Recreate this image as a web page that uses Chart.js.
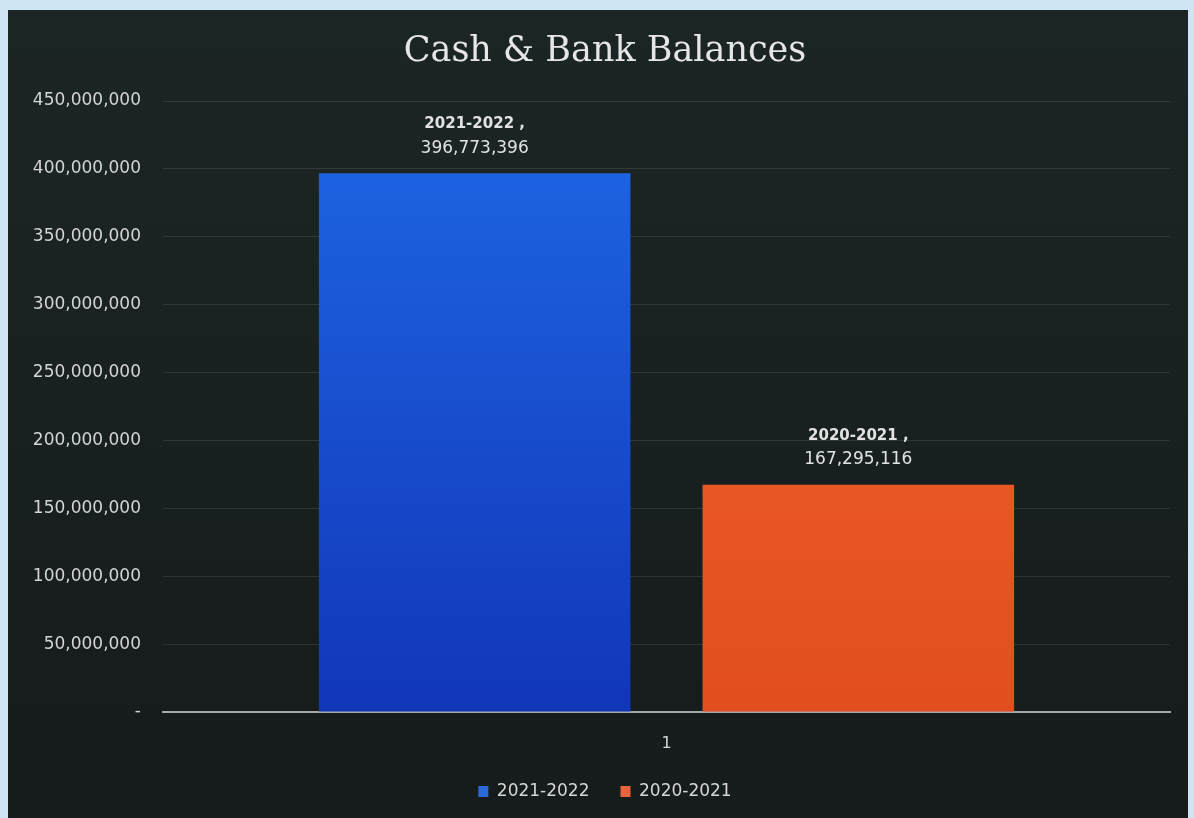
<!DOCTYPE html>
<html>
<head>
<meta charset="utf-8">
<script src="https://cdn.jsdelivr.net/npm/chart.js@4.4.1/dist/chart.umd.min.js"></script>
<style>
html,body{margin:0;padding:0;background:#cfe5f3;}
#wrap{width:1194px;height:818px;position:relative;}
</style>
</head>
<body>
<div id="wrap"><canvas id="c" width="1194" height="818"></canvas></div>
<script>
const chartTitle = "Cash & Bank Balances";
const categories = ["1"];
const seriesNames = ["2021-2022", "2020-2021"];
const values2122 = [396773396];
const values2021 = [167295116];
const yTicks = [0, 50000000, 100000000, 150000000, 200000000, 250000000, 300000000, 350000000, 400000000, 450000000];

const fmt = v => v.toLocaleString('en-US');

const panelBg = {
  id: 'panelBg',
  beforeDraw(chart) {
    const ctx = chart.ctx;
    ctx.save();
    const g = ctx.createLinearGradient(0, 10, 0, 818);
    g.addColorStop(0, '#1c2525');
    g.addColorStop(1, '#161b1b');
    ctx.fillStyle = g;
    ctx.fillRect(8, 10, 1180, 808);
    ctx.restore();
  }
};

const barLabels = {
  id: 'barLabels',
  afterDatasetsDraw(chart) {
    const ctx = chart.ctx;
    ctx.save();
    ctx.textAlign = 'center';
    ctx.textBaseline = 'middle';
    ctx.fillStyle = '#e2e2e2';
    chart.data.datasets.forEach((ds, i) => {
      const meta = chart.getDatasetMeta(i);
      meta.data.forEach((bar, j) => {
        const v = ds.data[j];
        ctx.font = 'bold 15px "DejaVu Sans"';
        ctx.fillText(ds.label + ' ,', bar.x, bar.y - 49);
        ctx.font = '17px "DejaVu Sans"';
        ctx.fillText(fmt(v), bar.x, bar.y - 25);
      });
    });
    ctx.restore();
  }
};

function grad(ctx, chartArea, top, bottom) {
  if (!chartArea) return top;
  const g = ctx.createLinearGradient(0, chartArea.top, 0, chartArea.bottom);
  g.addColorStop(0, top);
  g.addColorStop(1, bottom);
  return g;
}

new Chart(document.getElementById('c'), {
  type: 'bar',
  data: {
    labels: categories,
    datasets: [
      {
        label: seriesNames[0],
        data: values2122,
        backgroundColor: c => grad(c.chart.ctx, c.chart.chartArea, '#1e68e6', '#1236b8'),
        borderWidth: 0
      },
      {
        label: seriesNames[1],
        data: values2021,
        backgroundColor: c => grad(c.chart.ctx, c.chart.chartArea, '#f5652e', '#e24e1e'),
        borderWidth: 0
      }
    ]
  },
  plugins: [panelBg, barLabels],
  options: {
    responsive: false,
    animation: false,
    devicePixelRatio: 1,
    categoryPercentage: 0.762,
    barPercentage: 0.812,
    layout: { padding: { top: 20, left: 24, right: 8, bottom: 8 } },
    plugins: {
      title: {
        display: true,
        text: chartTitle,
        color: '#e6e6e6',
        font: { family: '"DejaVu Serif"', size: 35, weight: 'normal', lineHeight: 1.2 },
        padding: { top: 11, bottom: 28 }
      },
      legend: {
        position: 'bottom',
        labels: {
          color: '#d6d6d6',
          font: { family: '"DejaVu Sans"', size: 17 },
          boxWidth: 10,
          boxHeight: 11,
          padding: 31,
          generateLabels(chart) {
            const cols = ['#2a6ad8', '#e8643c'];
            return chart.data.datasets.map((ds, i) => ({
              text: ds.label,
              fillStyle: cols[i],
              strokeStyle: cols[i],
              lineWidth: 0,
              fontColor: '#d6d6d6',
              datasetIndex: i,
              hidden: false
            }));
          }
        }
      },
      tooltip: { enabled: false }
    },
    scales: {
      x: {
        grid: { display: false, drawTicks: false },
        border: { display: true, color: '#a8a8a8', width: 2 },
        ticks: { color: '#d6d6d6', font: { family: '"DejaVu Sans"', size: 16 }, padding: 22 },
        afterFit(s) { s.height = 40; }
      },
      y: {
        min: 0,
        max: 450000000,
        afterBuildTicks(s) { s.ticks = yTicks.map(v => ({ value: v })); },
        grid: { color: 'rgba(255,255,255,0.10)', lineWidth: 1, drawTicks: false },
        border: { display: false },
        ticks: {
          color: '#d4d4d4',
          font: { family: '"DejaVu Sans"', size: 17 },
          padding: 22,
          callback: v => v === 0 ? '-' : fmt(v)
        },
        afterFit(s) { s.width = 139; }
      },
      yRight: {
        position: 'right',
        min: 0,
        max: 450000000,
        grid: { display: false, drawTicks: false },
        border: { display: false },
        ticks: { display: false },
        afterFit(s) { s.width = 16; }
      }
    }
  }
});
</script>
</body>
</html>
